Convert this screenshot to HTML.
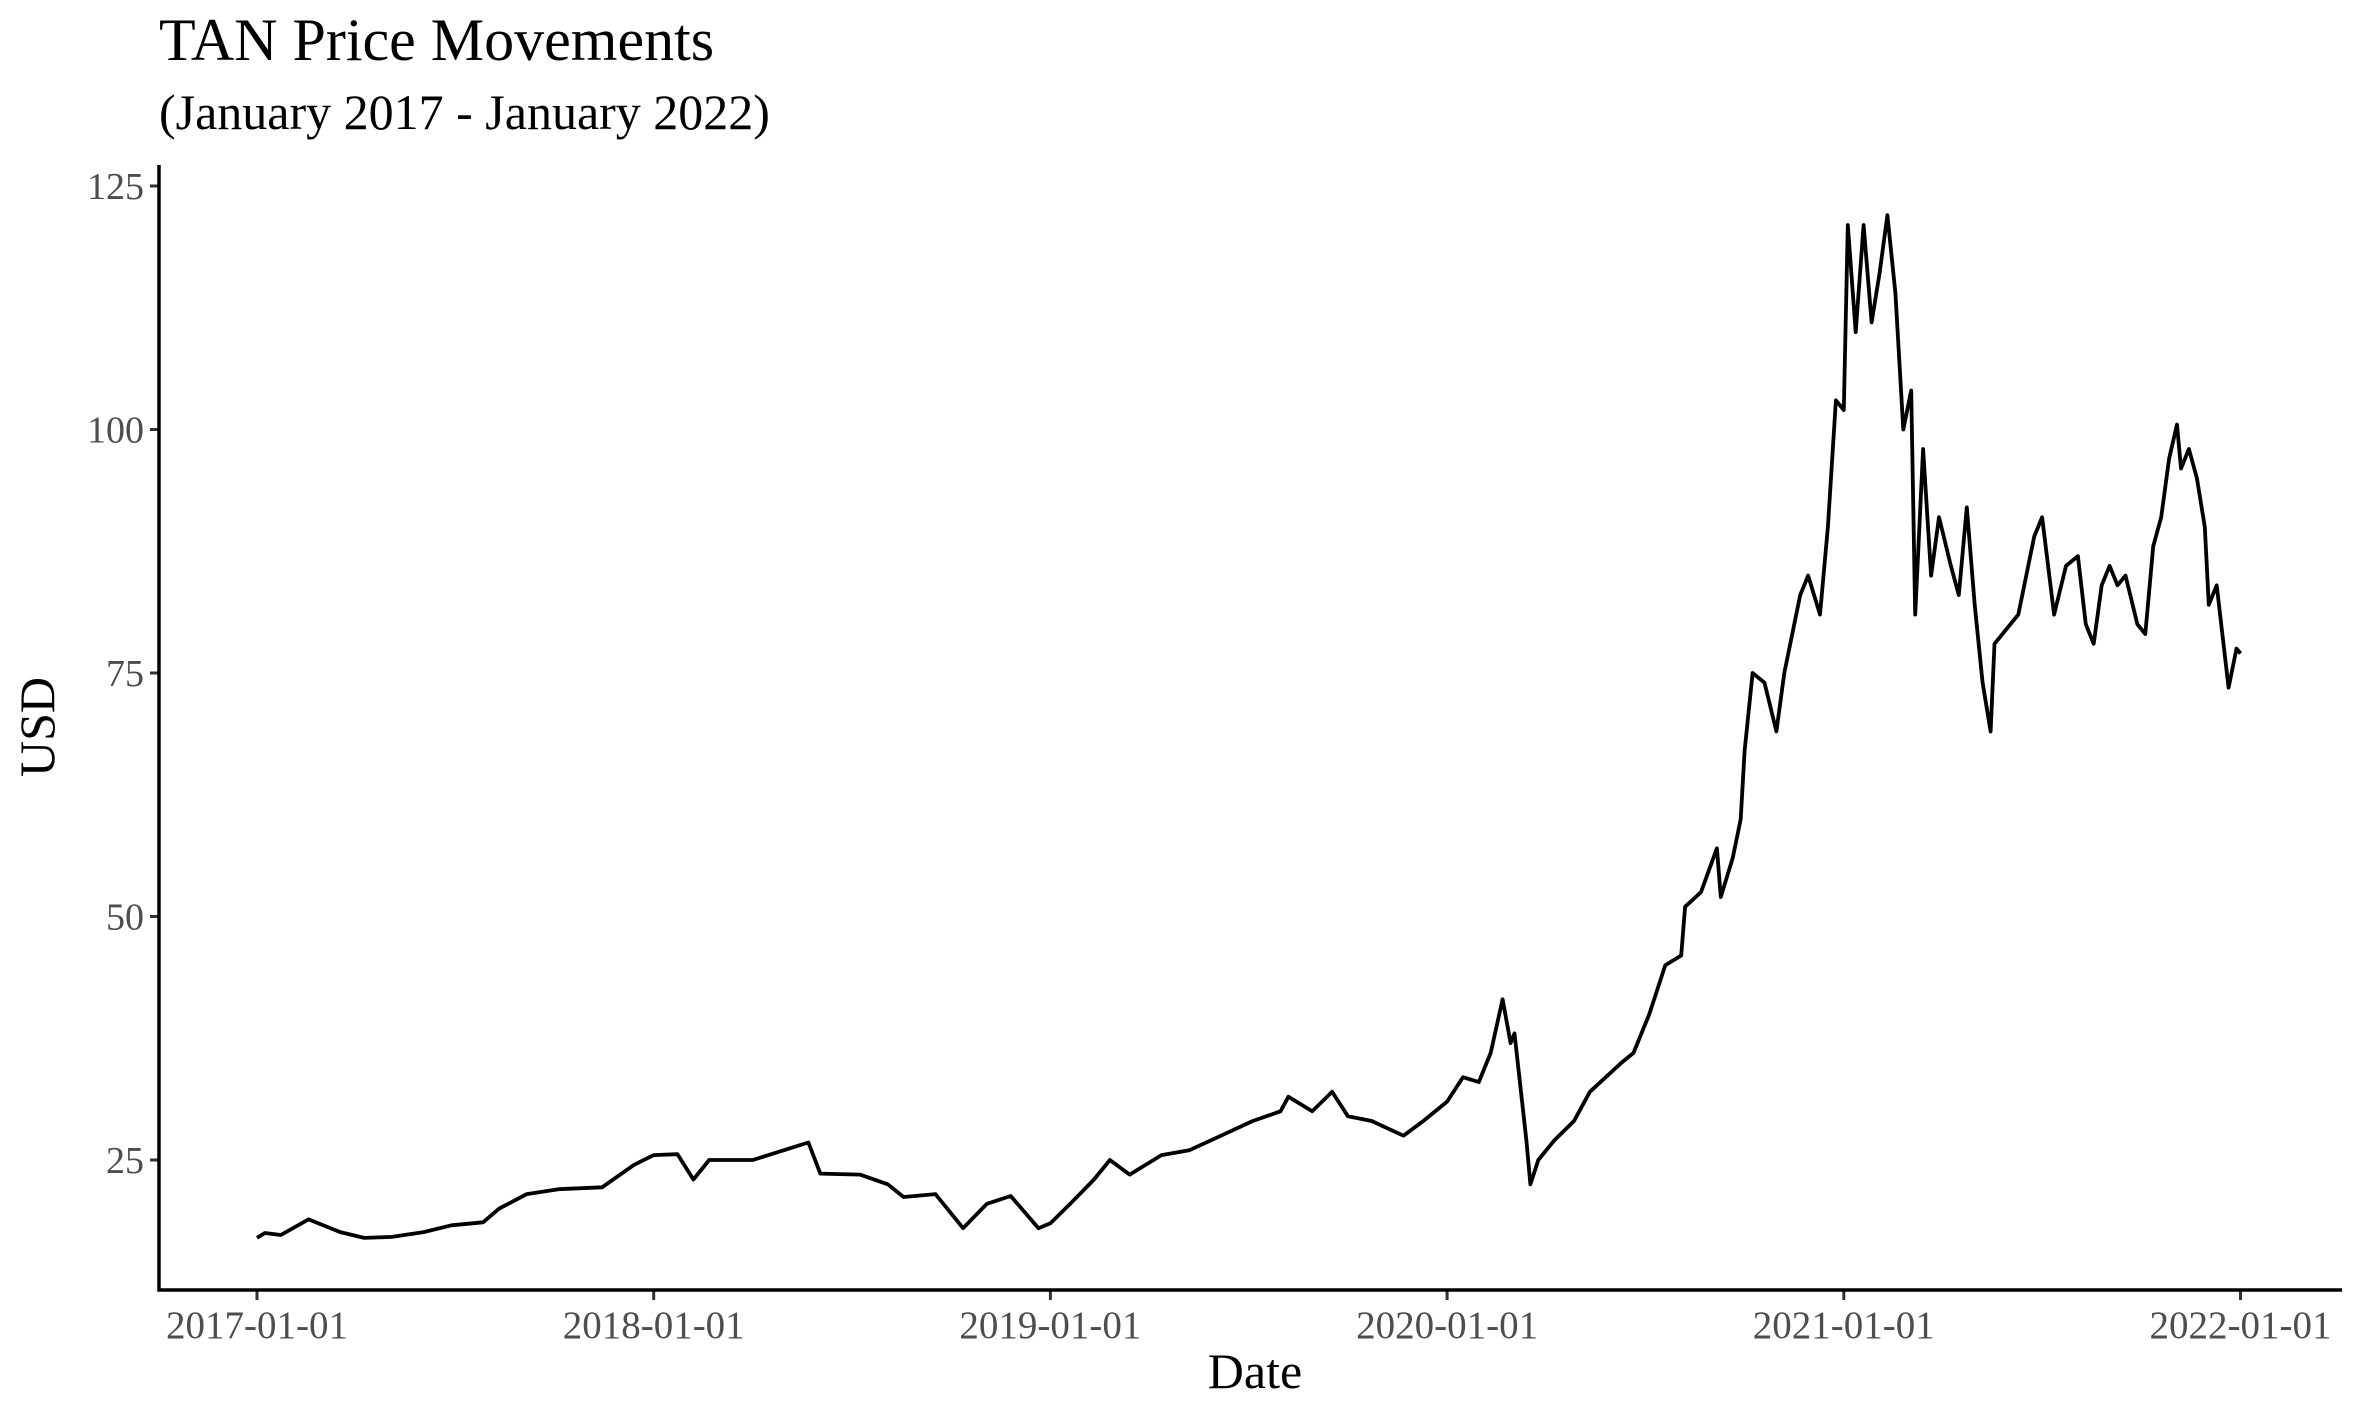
<!DOCTYPE html>
<html><head><meta charset="utf-8"><style>
html,body{margin:0;padding:0;background:#fff;}
svg{display:block;font-family:"Liberation Serif",serif;}
</style></head><body>
<svg id="chart" width="2362" height="1417" viewBox="0 0 2362 1417" xmlns="http://www.w3.org/2000/svg">
<rect width="2362" height="1417" fill="#fff"/>
<text x="159" y="60" font-size="60" fill="#000">TAN Price Movements</text>
<text x="159" y="129" font-size="50" fill="#000">(January 2017 - January 2022)</text>
<g id="yticks"></g>
<g id="xticks"></g>
<path id="series" fill="none" stroke="#000" stroke-width="3.8" stroke-linejoin="round"/>
<line x1="159" y1="165" x2="159" y2="1291.5" stroke="#000" stroke-width="3.5"/>
<line x1="157.5" y1="1290" x2="2342" y2="1290" stroke="#000" stroke-width="3.5"/>
<text x="1255" y="1388" font-size="50" text-anchor="middle" fill="#000">Date</text>
<text transform="translate(54,727) rotate(-90)" font-size="50" text-anchor="middle" fill="#000">USD</text>
</svg>
<script>
const dates=[2017.00,2017.02,2017.06,2017.13,2017.21,2017.27,2017.34,2017.42,2017.49,2017.57,2017.61,2017.68,2017.76,2017.87,2017.95,2018.00,
2018.06,2018.10,2018.14,2018.25,2018.39,2018.42,2018.52,2018.59,2018.63,2018.71,2018.78,2018.84,2018.90,2018.97,2019.00,
2019.05,2019.11,2019.15,2019.20,2019.28,2019.35,2019.43,2019.51,2019.58,2019.60,2019.66,2019.71,2019.75,2019.81,2019.89,2019.94,2020.00,
2020.04,2020.08,2020.11,2020.14,2020.16,2020.17,2020.20,2020.21,2020.23,2020.27,2020.32,2020.36,2020.44,2020.47,2020.51,2020.55,2020.59,2020.60,2020.64,2020.68,2020.69,2020.72,2020.74,2020.75,2020.77,2020.80,2020.83,2020.85,2020.89,2020.91,2020.94,2020.96,2020.98,2021.00,2021.01,
2021.03,2021.05,2021.07,2021.09,2021.11,2021.13,2021.15,2021.17,2021.18,2021.20,2021.22,2021.24,2021.27,2021.29,2021.31,2021.33,2021.35,2021.37,2021.38,2021.40,2021.44,2021.48,2021.50,2021.53,2021.56,2021.59,2021.61,2021.63,2021.65,2021.67,2021.69,2021.71,2021.74,2021.76,2021.78,2021.80,2021.82,2021.84,2021.85,2021.87,2021.89,2021.91,2021.92,2021.94,2021.96,2021.97,2021.99,2022.00];
const prices=[17.0,17.5,17.3,18.9,17.6,17.0,17.1,17.6,18.3,18.6,20.0,21.5,22.0,22.2,24.5,25.5,
25.6,23.0,25.0,25.0,26.8,23.6,23.5,22.5,21.2,21.5,18.0,20.5,21.3,18.0,18.5,
20.5,23.0,25.0,23.5,25.5,26.0,27.5,29.0,30.0,31.5,30.0,32.0,29.5,29.0,27.5,29.0,31.0,
33.5,33.0,36.0,41.5,37.0,38.0,27.0,22.5,25.0,27.0,29.0,32.0,35.0,36.0,40.0,45.0,46.0,51.0,52.5,57.0,52.0,56.0,60.0,67.0,75.0,74.0,69.0,75.0,83.0,85.0,81.0,90.0,103.0,102.0,121.0,
110.0,121.0,111.0,116.0,122.0,114.0,100.0,104.0,81.0,98.0,85.0,91.0,86.0,83.0,92.0,82.0,74.0,69.0,78.0,79.0,81.0,89.0,91.0,81.0,86.0,87.0,80.0,78.0,84.0,86.0,84.0,85.0,80.0,79.0,88.0,91.0,97.0,100.5,96.0,98.0,95.0,90.0,82.0,84.0,77.0,73.5,77.5,77.0];
const yTicks=[25,50,75,100,125];
const xTicks=[2017,2018,2019,2020,2021,2022];
const xLabels=["2017-01-01","2018-01-01","2019-01-01","2020-01-01","2021-01-01","2022-01-01"];

const NS="http://www.w3.org/2000/svg";
function xs(t){return 257+(t-2017)*396.7;}
function ys(v){return 1160-(v-25)*9.74;}
const yg=document.getElementById('yticks');
yTicks.forEach(v=>{
  const l=document.createElementNS(NS,'line');
  
  
  l.setAttribute('x1',150);l.setAttribute('x2',159);
  l.setAttribute('y1',ys(v));l.setAttribute('y2',ys(v));
  l.setAttribute('stroke','#333');l.setAttribute('stroke-width','3');
  yg.appendChild(l);
  const t=document.createElementNS(NS,'text');
  
  
  t.setAttribute('x',144);t.setAttribute('y',ys(v)+13);
  t.setAttribute('text-anchor','end');t.setAttribute('font-size','38');t.setAttribute('fill','#4d4d4d');
  t.textContent=v;yg.appendChild(t);
});
const xg=document.getElementById('xticks');
xTicks.forEach((d,i)=>{
  const l=document.createElementNS(NS,'line');
  
  
  l.setAttribute('x1',xs(d));l.setAttribute('x2',xs(d));
  l.setAttribute('y1',1290);l.setAttribute('y2',1300);
  l.setAttribute('stroke','#333');l.setAttribute('stroke-width','3');
  xg.appendChild(l);
  const t=document.createElementNS(NS,'text');
  
  
  t.setAttribute('x',xs(d));t.setAttribute('y',1338);
  t.setAttribute('text-anchor','middle');t.setAttribute('font-size','39');t.setAttribute('fill','#4d4d4d');
  t.textContent=xLabels[i];xg.appendChild(t);
});
let d='';
dates.forEach((t,i)=>{d+=(i?'L':'M')+xs(t).toFixed(1)+' '+ys(prices[i]).toFixed(1);});
document.getElementById('series').setAttribute('d',d);
</script>
</body></html>
